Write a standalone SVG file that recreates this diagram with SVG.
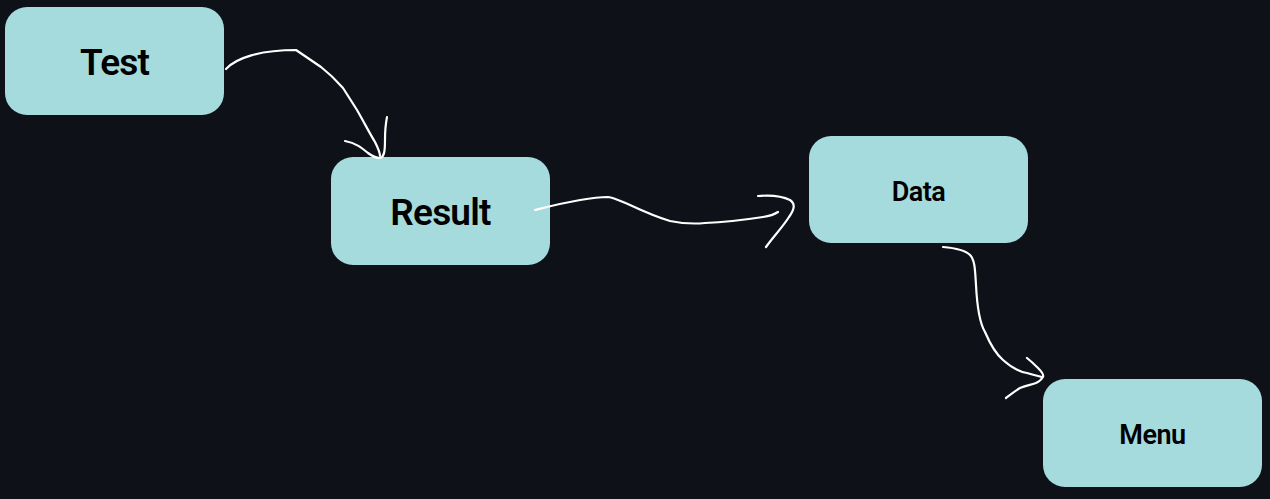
<svg xmlns="http://www.w3.org/2000/svg" width="1270" height="499" viewBox="0 0 1270 499">
<style>
.node rect{fill:#a5dbdd;}
.node text{font-family:Roboto,"Liberation Sans",sans-serif;font-weight:600;fill:#000;text-anchor:middle;}
.big{font-size:37px;letter-spacing:-0.8px;}
.small{font-size:27px;letter-spacing:-0.5px;}
.edge path{fill:none;stroke:#ffffff;stroke-width:2.2;stroke-linecap:round;stroke-linejoin:round;}
</style>
<rect width="1270" height="499" fill="#0e1118"/>
<g id="node-test" class="node">
<rect x="5" y="7" width="219" height="108" rx="22"/>
<text class="big" x="114.5" y="74.5">Test</text>
</g>
<g id="node-result" class="node">
<rect x="331" y="157" width="219" height="108" rx="22"/>
<text class="big" x="440.5" y="224.5">Result</text>
</g>
<g id="node-data" class="node">
<rect x="809" y="136" width="219" height="107" rx="22"/>
<text class="small" x="918.5" y="201">Data</text>
</g>
<g id="node-menu" class="node">
<rect x="1043" y="379" width="219" height="108" rx="22"/>
<text class="small" x="1152.5" y="443.5">Menu</text>
</g>
<g id="connectors" class="edge">
<path d="M226,69 C236,58 260,50 296,50 L321,67 C330,74 336,80 343,88 L357,110 C365,124 370,134 375,142 C378,148 380,153 380,156"/>
<path d="M345,141 C356,143 362,148 368,153 C372,156 376,158 380,158 C384,157 385,152 385,140 C385,130 386,122 387,117"/>
<path d="M535,210 C555,205 585,197 608,197 C615,198 620,201 630,205 C645,212 660,218 670,221 C685,224 695,224 705,223 C730,222 750,219 763,217 C770,216 775,214 778,212"/>
<path d="M758,196 C770,195 782,196 790,200 C796,204 794,210 789,217 C782,228 773,237 766,247"/>
<path d="M943,247 C955,248 966,251 970,255 C975,260 975,270 976,285 C977,305 979,322 985,332 C991,346 996,354 1003,360 C1012,368 1020,372 1027,373 C1033,375 1038,376 1042,377"/>
<path d="M1027,358 C1032,362 1035,365 1038,368 C1042,372 1044,375 1043,377 C1041,380 1039,382 1036,383 C1030,385 1025,386 1020,388 C1015,391 1010,395 1006,398"/>
</g>
</svg>
